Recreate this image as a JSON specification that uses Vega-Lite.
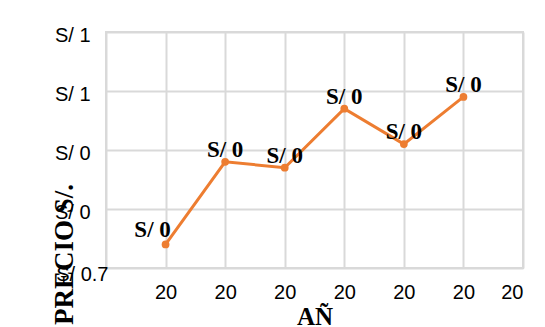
{
  "$schema": "https://vega.github.io/schema/vega-lite/v6.json",
  "autosize": {"type": "none"},
  "width": 417,
  "height": 236,
  "padding": {"left": 106, "top": 32, "right": 22, "bottom": 59},
  "background": "#ffffff",
  "config": {
    "view": {"stroke": "#d9d9d9", "strokeWidth": 2},
    "axis": {
      "gridColor": "#d9d9d9",
      "gridWidth": 2,
      "domain": false,
      "ticks": false,
      "labelFont": "Liberation Sans",
      "labelFontSize": 20,
      "labelColor": "#000000",
      "titleFont": "Liberation Serif",
      "titleFontWeight": "bold",
      "titleColor": "#000000"
    }
  },
  "data": {
    "values": [
      {"anio": 2012, "precio": 0.74},
      {"anio": 2013, "precio": 0.88},
      {"anio": 2014, "precio": 0.87},
      {"anio": 2015, "precio": 0.97},
      {"anio": 2016, "precio": 0.91},
      {"anio": 2017, "precio": 0.99}
    ]
  },
  "transform": [
    {"calculate": "'S/ ' + substring(format(datum.precio, '.2f'), 0, 1)", "as": "etiqueta"}
  ],
  "encoding": {
    "x": {
      "field": "anio",
      "type": "quantitative",
      "scale": {"domain": [2011, 2018], "nice": false, "zero": false},
      "axis": {
        "values": [2011, 2012, 2013, 2014, 2015, 2016, 2017, 2018],
        "format": "d",
        "labelExpr": "datum.value > 2011.5 ? substring(datum.label, 0, 2) : ''",
        "labelPadding": 14,
        "labelBaseline": "top",
        "title": "AÑ",
        "titleFontSize": 25,
        "titleBaseline": "alphabetic",
        "titleY": 56
      }
    },
    "y": {
      "field": "precio",
      "type": "quantitative",
      "scale": {"domain": [0.7, 1.1], "nice": false, "zero": false},
      "axis": {
        "values": [0.7, 0.8, 0.9, 1.0, 1.1],
        "labelExpr": "datum.value < 0.75 ? 'S/ 0.7' : (datum.value > 0.95 ? 'S/ 1' : 'S/ 0')",
        "labelPadding": {"condition": {"test": "datum.value < 0.75", "value": -2}, "value": 16},
        "labelOffset": {"condition": {"test": "datum.value < 0.75", "value": 6}, "value": 3},
        "labelBaseline": "middle",
        "title": "PRECIO S/.",
        "titleFontSize": 27,
        "titleAngle": 270,
        "titleAlign": "center",
        "titleBaseline": "middle",
        "titleX": -42,
        "titleY": 222
      }
    }
  },
  "layer": [
    {
      "mark": {"type": "line", "color": "#ED7D31", "strokeWidth": 3},
      "encoding": {}
    },
    {
      "mark": {"type": "point", "filled": true, "color": "#ED7D31", "size": 60, "opacity": 1},
      "encoding": {}
    },
    {
      "transform": [{"filter": "datum.anio > 2012"}],
      "mark": {"type": "text", "font": "Liberation Serif", "fontWeight": "bold", "fontSize": 23, "color": "#000000", "align": "center", "baseline": "alphabetic", "dy": -5},
      "encoding": {"text": {"field": "etiqueta"}}
    },
    {
      "transform": [{"filter": "datum.anio == 2012"}],
      "mark": {"type": "text", "font": "Liberation Serif", "fontWeight": "bold", "fontSize": 23, "color": "#000000", "align": "center", "baseline": "alphabetic", "dx": -13, "dy": -7},
      "encoding": {"text": {"field": "etiqueta"}}
    }
  ]
}
